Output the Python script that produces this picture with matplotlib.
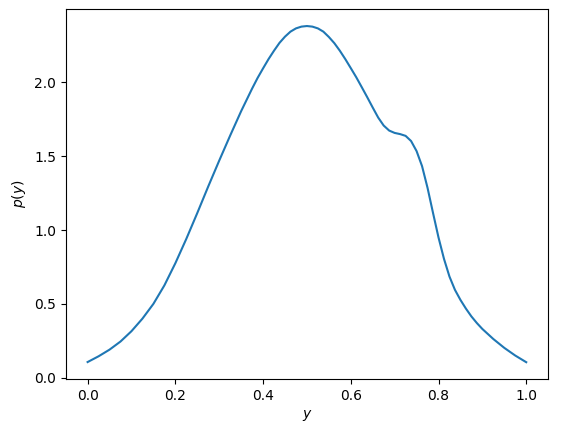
import matplotlib
matplotlib.use("Agg")
import matplotlib.pyplot as plt

# values (finer steps where it bends)
y_vals = [0.000, 0.025, 0.050, 0.075, 0.100, 0.125, 0.150, 0.175, 0.200,
          0.225, 0.250, 0.275, 0.300, 0.325, 0.350, 0.375, 0.3875, 0.400,
          0.4125, 0.425, 0.4375, 0.450, 0.4625, 0.475, 0.4875, 0.500,
          0.5125, 0.525, 0.5375, 0.550, 0.5625, 0.575, 0.5875, 0.600,
          0.6125, 0.625, 0.6375, 0.650, 0.6625, 0.675, 0.6875, 0.700,
          0.7125, 0.725, 0.7375, 0.750, 0.7625, 0.775, 0.7875, 0.800,
          0.8125, 0.825, 0.8375, 0.850, 0.8625, 0.875, 0.8875, 0.900,
          0.925, 0.950, 0.975, 1.000]
p_vals = [0.106, 0.145, 0.190, 0.245, 0.315, 0.400, 0.500, 0.625, 0.775,
          0.940, 1.115, 1.295, 1.470, 1.640, 1.805, 1.958, 2.030, 2.095,
          2.158, 2.215, 2.268, 2.310, 2.344, 2.366, 2.378, 2.382,
          2.378, 2.366, 2.344, 2.308, 2.266, 2.215, 2.158, 2.097,
          2.035, 1.968, 1.900, 1.830, 1.762, 1.708, 1.674, 1.658,
          1.650, 1.638, 1.603, 1.535, 1.433, 1.286, 1.116, 0.950,
          0.805, 0.685, 0.595, 0.527, 0.468, 0.415, 0.370, 0.330,
          0.262, 0.202, 0.150, 0.105]

fig = plt.figure(figsize=(5.71, 4.33), dpi=100)
ax = fig.add_axes([0.115, 0.1247, 0.845, 0.854])
ax.plot(y_vals, p_vals)
ax.set_xlabel('$y$')
ax.set_ylabel('$p(y)$')

fig.savefig('out.png', dpi=100)
